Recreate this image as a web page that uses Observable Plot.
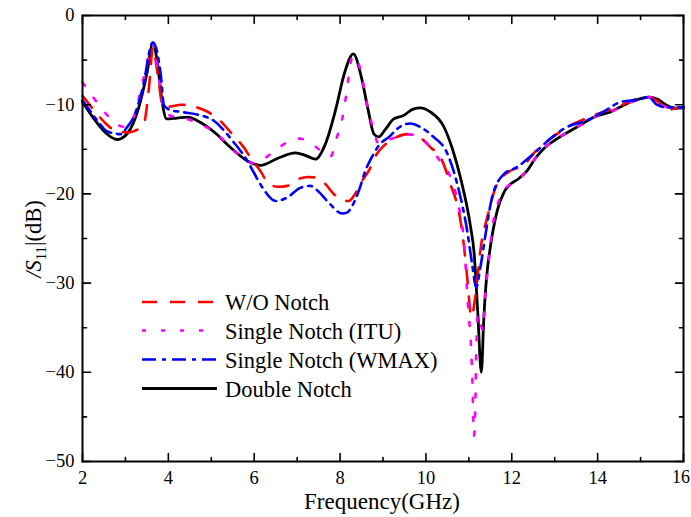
<!DOCTYPE html>
<html><head><meta charset="utf-8">
<script src="https://cdn.jsdelivr.net/npm/d3@7"></script>
<script src="https://cdn.jsdelivr.net/npm/@observablehq/plot@0.6"></script>
<style>
body{margin:0;background:#fff;}
svg text{font-family:"Liberation Serif","Times New Roman",Times,"DejaVu Serif",serif !important;}
</style>
</head><body><div id="chart"></div>
<script>
// ---- data (frequency GHz, |S11| dB) ----
const freqDouble = [2.0,2.3,2.55,2.81,3.05,3.3,3.5,3.64,3.75,3.85,3.96,4.2,4.45,4.75,5.1,5.45,5.84,6.15,6.55,6.96,7.2,7.43,7.65,7.9,8.1,8.31,8.5,8.65,8.79,8.9,9.05,9.25,9.48,9.7,9.87,10.1,10.42,10.62,10.8,11.04,11.12,11.21,11.29,11.35,11.42,11.49,11.66,11.82,11.97,12.16,12.36,12.55,12.75,13.06,13.52,13.91,14.3,14.77,15.19,15.4,15.62,15.8,16.0];
const dbDouble   = [-9.7,-11.8,-13.2,-13.9,-13.2,-10.5,-6.5,-3.1,-5.5,-9.5,-11.6,-11.5,-11.4,-12.0,-13.2,-14.8,-16.3,-16.8,-16.0,-15.4,-15.7,-16.1,-14.5,-10.5,-6.5,-4.3,-7.0,-10.5,-13.3,-13.6,-12.8,-11.6,-11.2,-10.5,-10.35,-10.8,-12.5,-15.0,-18.1,-23.7,-26.5,-33.5,-40.0,-33.8,-29.0,-26.3,-21.9,-19.8,-18.9,-18.3,-17.4,-16.0,-14.9,-13.8,-12.5,-11.4,-10.8,-9.7,-9.15,-9.4,-10.1,-10.4,-10.35];

const freqWO = [2.0,2.3,2.54,2.81,3.05,3.23,3.43,3.55,3.64,3.75,3.88,4.05,4.3,4.59,4.83,5.21,5.45,5.76,5.91,6.18,6.3,6.55,6.77,7.0,7.25,7.47,7.66,7.85,8.05,8.2,8.35,8.52,8.67,8.86,9.02,9.33,9.56,9.8,10.11,10.34,10.57,10.79,10.88,10.96,11.06,11.15,11.22,11.27,11.43,11.66,11.97,12.28,12.5,12.75,13.05,13.37,13.75,14.14,14.45,14.77,15.19,15.4,15.62,15.8,16.0];
const dbWO   = [-9.0,-10.8,-12.1,-13.0,-13.1,-12.9,-12.1,-8.0,-3.6,-6.5,-10.3,-10.2,-10.0,-10.2,-10.6,-11.8,-13.1,-14.8,-15.9,-17.7,-18.7,-19.2,-19.1,-18.4,-18.1,-18.2,-18.9,-20.0,-20.7,-20.8,-20.0,-18.5,-17.4,-15.5,-14.6,-13.6,-13.3,-13.5,-14.8,-15.9,-18.9,-22.6,-25.6,-29.3,-33.8,-31.5,-28.5,-26.3,-22.6,-18.9,-17.4,-16.8,-15.5,-14.4,-13.3,-12.3,-11.5,-10.8,-10.3,-9.6,-9.15,-9.6,-10.65,-10.4,-10.3];

const freqITU = [2.0,2.3,2.58,2.8,3.0,3.19,3.43,3.64,3.78,3.9,4.1,4.35,4.75,5.14,5.45,5.84,6.05,6.22,6.61,6.85,7.08,7.25,7.43,7.65,7.78,7.93,8.05,8.13,8.3,8.48,8.56,8.65,8.77,8.9,9.1,9.33,9.56,9.8,10.07,10.34,10.57,10.73,10.88,11.0,11.04,11.08,11.12,11.15,11.17,11.21,11.27,11.33,11.37,11.44,11.54,11.77,11.97,12.16,12.36,12.55,12.75,13.06,13.52,13.91,14.3,14.77,15.19,15.4,15.62,16.0];
const dbITU   = [-7.5,-9.5,-11.2,-12.2,-12.5,-11.4,-6.9,-3.2,-6.9,-10.8,-11.3,-11.5,-12.2,-13.3,-14.8,-16.3,-16.6,-16.1,-14.7,-14.0,-13.8,-14.2,-14.7,-15.6,-15.8,-13.6,-11.6,-9.3,-4.5,-6.2,-8.2,-10.5,-12.6,-14.4,-14.0,-13.6,-13.3,-13.5,-14.6,-16.4,-18.1,-20.7,-25.1,-33.8,-36.1,-40.6,-47.1,-44.0,-38.0,-33.5,-34.5,-35.3,-32.0,-28.5,-24.1,-20.0,-18.9,-18.3,-17.4,-16.0,-14.9,-13.8,-12.5,-11.4,-10.8,-9.7,-9.15,-9.5,-10.3,-10.4];

const freqWMAX = [2.0,2.15,2.38,2.58,2.89,3.04,3.19,3.39,3.64,3.82,3.9,4.05,4.28,4.67,5.06,5.52,5.84,5.99,6.18,6.5,6.77,7.08,7.31,7.51,7.74,8.05,8.16,8.32,8.44,8.59,8.75,8.9,9.17,9.33,9.64,9.87,10.15,10.5,10.73,10.96,11.08,11.17,11.27,11.39,11.54,11.81,12.12,12.51,12.9,13.21,13.83,14.2,14.53,14.98,15.19,15.38,15.6,16.0];
const dbWMAX   = [-9.5,-10.5,-12.0,-13.0,-13.3,-12.5,-11.4,-8.4,-3.0,-6.5,-10.1,-10.6,-10.8,-11.1,-11.8,-14.2,-16.3,-17.6,-19.2,-20.8,-20.4,-19.3,-19.1,-19.8,-21.0,-22.2,-22.1,-21.0,-19.6,-17.4,-15.8,-14.6,-13.5,-12.7,-12.1,-12.5,-13.5,-15.5,-18.9,-24.1,-28.0,-30.5,-28.2,-24.5,-20.4,-17.8,-17.0,-15.5,-13.8,-12.7,-11.6,-10.6,-9.7,-9.4,-9.15,-10.0,-10.3,-10.3];

const seriesNames = ["W/O Notch","Single Notch (ITU)","Single Notch (WMAX)","Double Notch"];
const xMajor = [2,4,6,8,10,12,14,16];
const xMinor = [3,5,7,9,11,13,15];
const yMajor = [0,-10,-20,-30,-40,-50];
const yMinor = [-5,-15,-25,-35,-45];

// ---- styles ----
const styles = [
  {stroke:"#ff0000", dash:"15,13", width:2.6},
  {stroke:"#ff00ff", dash:"4,15", width:2.6},
  {stroke:"#0000ff", dash:"14,6,4,6", width:2.6},
  {stroke:"#000000", dash:null, width:2.8}
];
const serif = "Liberation Serif, Times New Roman, Times, DejaVu Serif, serif";
const tickShape = {draw(ctx, l){ ctx.moveTo(0,0); ctx.lineTo(0,-l); }};
const tk = (data, ch, anchor, rot, len) => (ch === "x" ? Plot.vectorX : Plot.vectorY)(data, {
  [ch]: d => d, frameAnchor: anchor, rotate: rot, length: len, anchor: "start",
  shape: tickShape, stroke: "black", strokeWidth: 1.6
});
const line = (f, v, s) => Plot.line(v, {
  x: (d,i) => f[i], y: d => d, curve: "monotone-x",
  stroke: s.stroke, strokeWidth: s.width, strokeDasharray: s.dash || undefined
});
const xMax = d3.max(xMajor);

const svg = Plot.plot({
  width: 691, height: 517,
  marginLeft: 82, marginRight: 8, marginTop: 15, marginBottom: 56,
  style: {fontFamily: serif, fontSize: "18px", background: "#fff", color: "black"},
  x: {domain: [2,16], label: null},
  y: {domain: [-50,0], label: null},
  marks: [
    line(freqDouble, dbDouble, styles[3]),
    line(freqWO, dbWO, styles[0]),
    line(freqITU, dbITU, styles[1]),
    line(freqWMAX, dbWMAX, styles[2]),
    Plot.frame({stroke: "black", strokeWidth: 2}),
    tk(xMajor, "x", "bottom", 0, 8), tk(xMinor, "x", "bottom", 0, 4),
    tk(xMajor, "x", "top", 180, 8),  tk(xMinor, "x", "top", 180, 4),
    tk(yMajor, "y", "left", 90, 8),  tk(yMinor, "y", "left", 90, 4),
    tk(yMajor, "y", "right", -90, 8), tk(yMinor, "y", "right", -90, 4),
    Plot.axisX(xMajor.filter(d => d !== xMax), {anchor: "bottom", tickSize: 0, tickPadding: 9, fontSize: 18.5, label: null}),
    Plot.axisX([xMax], {anchor: "bottom", tickSize: 0, tickPadding: 9, fontSize: 18, dx: -2.5, label: null}),
    Plot.axisY(yMajor, {anchor: "left", tickSize: 0, tickPadding: 8, fontSize: 18.5, label: null})
  ]
});
document.getElementById("chart").appendChild(svg);

// ---- titles & legend ----
const s = d3.select(svg);
s.append("text").attr("x", 382).attr("y", 509).attr("text-anchor", "middle")
  .attr("font-size", 23).attr("fill", "black").text("Frequency(GHz)");

const yl = s.append("text").attr("transform", "translate(41,239) rotate(-90)")
  .attr("text-anchor", "middle").attr("font-size", 22.5).attr("fill", "black");
yl.append("tspan").attr("font-style", "italic").text("/S");
yl.append("tspan").attr("font-size", 15).attr("dy", 5).text("11");
yl.append("tspan").attr("dy", -5).text("|(dB)");

const legendRows = [302, 330.5, 359.5, 388.5];
const lg = s.append("g");
seriesNames.forEach((name, i) => {
  const st = styles[i];
  lg.append("line").attr("x1", 142).attr("x2", 217).attr("y1", legendRows[i]).attr("y2", legendRows[i])
    .attr("stroke", st.stroke).attr("stroke-width", st.width)
    .attr("stroke-dasharray", st.dash);
  lg.append("text").attr("x", 225).attr("y", legendRows[i] + 8).attr("text-anchor", "start")
    .attr("font-size", 22.5).attr("fill", "black").text(name);
});
</script></body></html>
